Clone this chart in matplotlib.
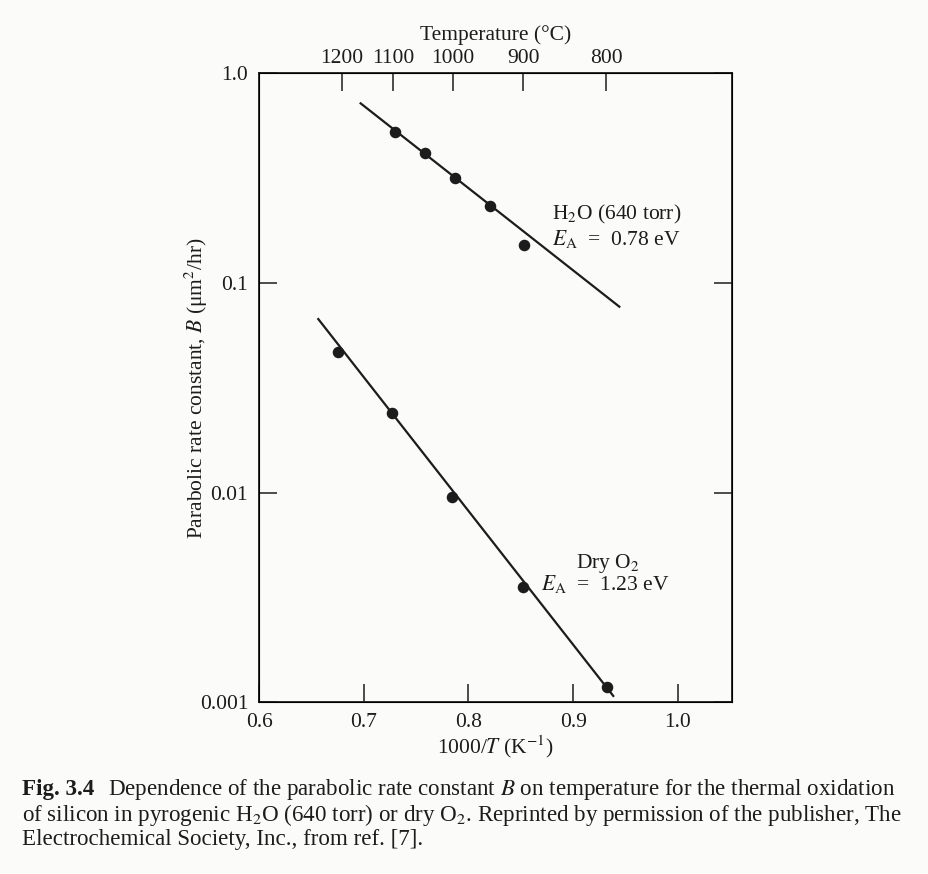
import numpy as np
import matplotlib
matplotlib.use('Agg')
import matplotlib.pyplot as plt

plt.rcParams['font.family'] = ['Liberation Serif', 'DejaVu Serif']
plt.rcParams['mathtext.fontset'] = 'stix'

# ── Data ─────────────────────────────────────────────────────────────────────
h2o_x = [0.7297, 0.7584, 0.7871, 0.8206, 0.8533]     # 1000/T (1/K)
h2o_b = [0.526, 0.418, 0.316, 0.233, 0.151]          # um^2/hr
h2o_fit_x = [0.6969, 0.9442]
h2o_fit_b = [0.719, 0.0771]

dry_x = [0.6755, 0.7266, 0.7839, 0.8518, 0.9321]
dry_b = [0.0470, 0.02407, 0.00951, 0.00354, 0.00119]
dry_fit_x = [0.6564, 0.9384]
dry_fit_b = [0.0673, 0.001073]

x_ticks = [0.6, 0.7, 0.8, 0.9, 1.0]
x_labels = ['0.6', '0.7', '0.8', '0.9', '1.0']
y_ticks = [0.001, 0.01, 0.1, 1.0]
y_labels = ['0.001', '0.01', '0.1', '1.0']
temps_c = [1200, 1100, 1000, 900, 800]

# ── Figure ───────────────────────────────────────────────────────────────────
fig = plt.figure(figsize=(9.29, 8.74), dpi=100)
fig.patch.set_facecolor('#fbfbfa')
ax = fig.add_axes([0.2791, 0.1964, 0.5085, 0.7197])
ax.set_facecolor('#fbfbfa')

ink = '#1c1c1c'
ax.plot(h2o_fit_x, h2o_fit_b, color=ink, lw=1.6, zorder=2)
ax.plot(dry_fit_x, dry_fit_b, color=ink, lw=1.6, zorder=2)
ax.plot(h2o_x, h2o_b, 'o', color=ink, ms=7.3, zorder=3)
ax.plot(dry_x, dry_b, 'o', color=ink, ms=7.3, zorder=3)

ax.set_yscale('log')
ax.set_xlim(0.6, 1.0516)
ax.set_ylim(0.001, 1.0)
ax.set_xticks(x_ticks)
ax.set_xticklabels(x_labels)
ax.set_yticks(y_ticks)
ax.set_yticklabels(y_labels)
ax.minorticks_off()
ax.tick_params(direction='in', length=13, width=1.1, labelsize=15.5,
               colors=ink, top=False, right=True, pad=8)
for s in ax.spines.values():
    s.set_linewidth(1.3)
    s.set_color(ink)

ax.set_xlabel('1000/$T$ (K$^{-1}$)', fontsize=15.5, color=ink, labelpad=1)
ax.set_ylabel('Parabolic rate constant, $B$ (μm$^2$/hr)', fontsize=15.5,
              color=ink)
ax.yaxis.set_label_coords(-0.104, 0.5)

# top axis in degrees C
axt = ax.twiny()
axt.set_xlim(ax.get_xlim())
axt.set_xticks([1000.0 / (t + 273.15) for t in temps_c])
axt.set_xticklabels([str(t) for t in temps_c])
axt.minorticks_off()
axt.tick_params(direction='in', length=13, width=1.1, labelsize=15.5,
                colors=ink, pad=4)
axt.set_xlabel('Temperature (°C)', fontsize=15.5, color=ink, labelpad=6)

# curve labels
ax.text(0.8797, 0.213, 'H$_2$O (640 torr)', fontsize=15.5, color=ink,
        ha='left', va='center')
ax.text(0.8797, 0.163, '$E_{\\mathrm{A}}$  =  0.78 eV', fontsize=15.5,
        color=ink, ha='left', va='center')
ax.text(0.9023, 0.00458, 'Dry O$_2$', fontsize=15.5, color=ink,
        ha='left', va='center')
ax.text(0.8693, 0.00365, '$E_{\\mathrm{A}}$  =  1.23 eV', fontsize=15.5,
        color=ink, ha='left', va='center')

# caption
cap = 16.6
fig.text(22 / 929, 1 - 790 / 874, 'Fig. 3.4', fontsize=cap, weight='bold',
         color=ink, va='center')
fig.text(108 / 929, 1 - 790 / 874,
         'Dependence of the parabolic rate constant $B$ on temperature for the thermal oxidation',
         fontsize=cap, color=ink, va='center')
fig.text(22 / 929, 1 - 815 / 874,
         'of silicon in pyrogenic H$_2$O (640 torr) or dry O$_2$. Reprinted by permission of the publisher, The',
         fontsize=cap, color=ink, va='center')
fig.text(22 / 929, 1 - 840 / 874,
         'Electrochemical Society, Inc., from ref. [7].',
         fontsize=cap, color=ink, va='center')

plt.savefig('out.png', dpi=100, facecolor=fig.get_facecolor())
plt.close()
